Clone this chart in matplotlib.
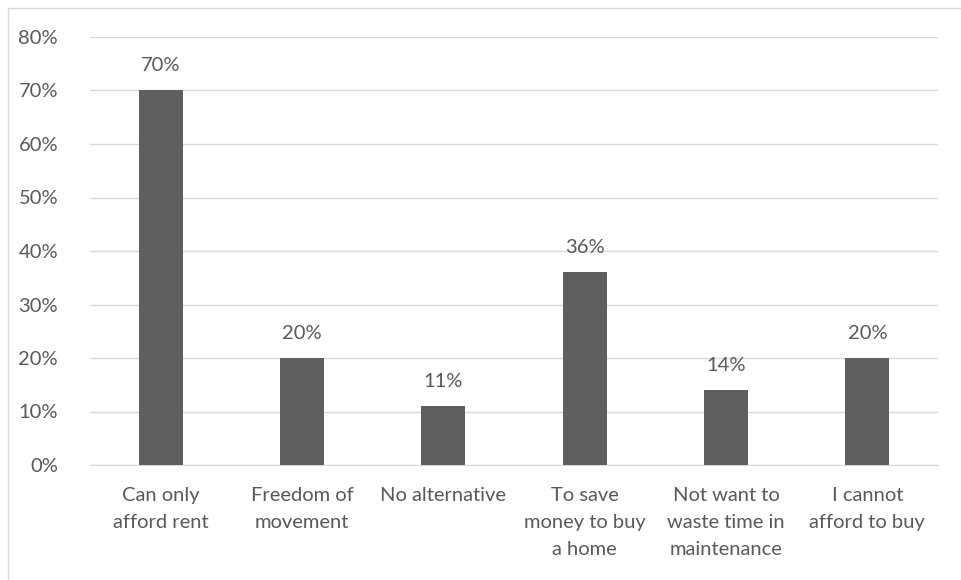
import numpy as np
import matplotlib.pyplot as plt
from matplotlib.patches import Rectangle

# Data
categories = ['Can only\nafford rent', 'Freedom of\nmovement', 'No alternative',
              'To save\nmoney to buy\na home', 'Not want to\nwaste time in\nmaintenance',
              'I cannot\nafford to buy']
values = [70, 20, 11, 36, 14, 20]
y_ticks = [0, 10, 20, 30, 40, 50, 60, 70, 80]

text_color = '#595959'
bar_color = '#5f5f5f'
grid_color = '#d9d9d9'

plt.rcParams['font.family'] = ['Lato', 'DejaVu Sans']

fig = plt.figure(figsize=(9.61, 5.8), dpi=100)
fig.patches.append(Rectangle((8 / 961, -0.1), 1.2, (580 - 8) / 580 + 0.1,
                             transform=fig.transFigure, fill=False,
                             edgecolor=grid_color, linewidth=1))
ax = fig.add_axes([90 / 961, 1 - 465 / 580, (938 - 90) / 961, (465 - 37) / 580])

x = np.arange(len(categories))
ax.bar(x, values, width=0.31, color=bar_color, zorder=3)
for xi, v in zip(x, values):
    ax.text(xi, v + 3.0, f'{v}%', ha='center', va='bottom', fontsize=14.5, color=text_color)

ax.set_xlim(-0.5, len(categories) - 0.5)
ax.set_ylim(0, 80)
ax.set_yticks(y_ticks)
ax.set_yticklabels([f'{t}%' for t in y_ticks])
ax.set_xticks(x)
ax.set_xticklabels(categories, linespacing=1.72)
ax.tick_params(axis='both', length=0, labelsize=14.5, labelcolor=text_color)
ax.tick_params(axis='x', pad=16)
ax.tick_params(axis='y', pad=23)
ax.grid(axis='y', color=grid_color, linewidth=1, zorder=0)
for side in ['top', 'right', 'left']:
    ax.spines[side].set_visible(False)
ax.spines['bottom'].set_color(grid_color)

fig.savefig('out.png', dpi=100)
